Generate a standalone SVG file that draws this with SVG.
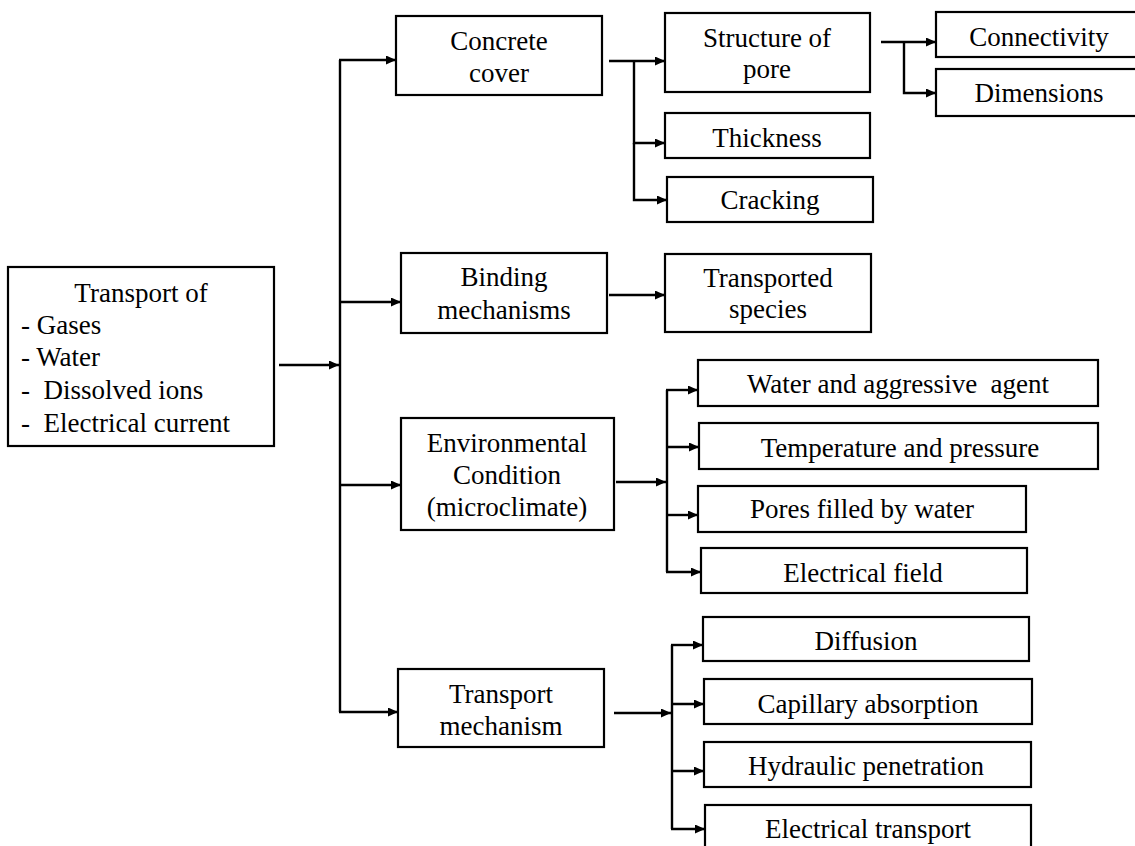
<svg xmlns="http://www.w3.org/2000/svg" width="1135" height="846" viewBox="0 0 1135 846">
  <style>
    .box { fill: #ffffff; stroke: #000000; stroke-width: 2.2; }
    .lbl { font-family: "Liberation Serif", "Times New Roman", serif; font-size: 27px; fill: #000000; text-anchor: middle; white-space: pre; }
    .lft { text-anchor: start; }
    .wire { fill: none; stroke: #000000; stroke-width: 2.4; }
    .arr { marker-end: url(#head); }
  </style>
  <defs>
    <marker id="head" markerUnits="userSpaceOnUse" markerWidth="10" markerHeight="9" refX="10" refY="4.5" orient="auto">
      <path d="M0,0 L10,4.5 L0,9 z" fill="#000000"/>
    </marker>
  </defs>

  <rect width="1135" height="846" fill="#ffffff"/>

  <!-- connectors -->
  <g id="connectors">
    <!-- root to main trunk -->
    <line class="wire arr" x1="279" y1="365" x2="339" y2="365"/>
    <line class="wire" x1="340" y1="60" x2="340" y2="712"/>
    <line class="wire arr" x1="339" y1="60" x2="396" y2="60"/>
    <line class="wire arr" x1="339" y1="302" x2="401" y2="302"/>
    <line class="wire arr" x1="339" y1="485" x2="401" y2="485"/>
    <line class="wire arr" x1="339" y1="712" x2="398" y2="712"/>

    <!-- concrete cover branches -->
    <line class="wire arr" x1="609" y1="61" x2="665" y2="61"/>
    <polyline class="wire arr" points="634,61 634,143 665,143"/>
    <polyline class="wire arr" points="634,143 634,200 667,200"/>

    <!-- structure of pore branches -->
    <line class="wire arr" x1="881" y1="42" x2="936" y2="42"/>
    <polyline class="wire arr" points="904,42 904,93 936,93"/>

    <!-- binding mechanisms -->
    <line class="wire arr" x1="609" y1="295" x2="665" y2="295"/>

    <!-- environmental condition branches -->
    <line class="wire arr" x1="616" y1="482" x2="666" y2="482"/>
    <line class="wire" x1="667" y1="390" x2="667" y2="572"/>
    <line class="wire arr" x1="666" y1="390" x2="698" y2="390"/>
    <line class="wire arr" x1="666" y1="447" x2="699" y2="447"/>
    <line class="wire arr" x1="666" y1="515" x2="698" y2="515"/>
    <line class="wire arr" x1="666" y1="572" x2="701" y2="572"/>

    <!-- transport mechanism branches -->
    <line class="wire arr" x1="614" y1="713" x2="671" y2="713"/>
    <line class="wire" x1="672" y1="645" x2="672" y2="829"/>
    <line class="wire arr" x1="671" y1="645" x2="703" y2="645"/>
    <line class="wire arr" x1="671" y1="704" x2="704" y2="704"/>
    <line class="wire arr" x1="671" y1="771" x2="704" y2="771"/>
    <line class="wire arr" x1="671" y1="829" x2="705" y2="829"/>
  </g>

  <!-- root -->
  <g id="transport-of">
    <rect class="box" x="8" y="267" width="266" height="179"/>
    <text class="lbl" x="141" y="302">Transport of</text>
    <text class="lbl lft" x="21" y="334">- Gases</text>
    <text class="lbl lft" x="21" y="366">- Water</text>
    <text class="lbl lft" x="21" y="399">-  Dissolved ions</text>
    <text class="lbl lft" x="21" y="432">-  Electrical current</text>
  </g>

  <!-- first level -->
  <g id="concrete-cover">
    <rect class="box" x="396" y="16" width="206" height="79"/>
    <text class="lbl" x="499" y="50">Concrete</text>
    <text class="lbl" x="499" y="82">cover</text>
  </g>
  <g id="binding-mechanisms">
    <rect class="box" x="401" y="253" width="206" height="80"/>
    <text class="lbl" x="504" y="286">Binding</text>
    <text class="lbl" x="504" y="319">mechanisms</text>
  </g>
  <g id="environmental-condition">
    <rect class="box" x="401" y="418" width="213" height="112"/>
    <text class="lbl" x="507" y="452">Environmental</text>
    <text class="lbl" x="507" y="484">Condition</text>
    <text class="lbl" x="507" y="516">(microclimate)</text>
  </g>
  <g id="transport-mechanism">
    <rect class="box" x="398" y="669" width="206" height="78"/>
    <text class="lbl" x="501" y="703">Transport</text>
    <text class="lbl" x="501" y="735">mechanism</text>
  </g>

  <!-- concrete cover children -->
  <g id="structure-of-pore">
    <rect class="box" x="665" y="13" width="205" height="79"/>
    <text class="lbl" x="767" y="47">Structure of</text>
    <text class="lbl" x="767" y="78">pore</text>
  </g>
  <g id="thickness">
    <rect class="box" x="665" y="113" width="205" height="45"/>
    <text class="lbl" x="767" y="147">Thickness</text>
  </g>
  <g id="cracking">
    <rect class="box" x="667" y="177" width="206" height="45"/>
    <text class="lbl" x="770" y="209">Cracking</text>
  </g>
  <g id="connectivity">
    <rect class="box" x="936" y="12" width="210" height="45"/>
    <text class="lbl" x="1039" y="46">Connectivity</text>
  </g>
  <g id="dimensions">
    <rect class="box" x="936" y="69" width="210" height="47"/>
    <text class="lbl" x="1039" y="102">Dimensions</text>
  </g>

  <!-- binding child -->
  <g id="transported-species">
    <rect class="box" x="665" y="254" width="206" height="78"/>
    <text class="lbl" x="768" y="287">Transported</text>
    <text class="lbl" x="768" y="318">species</text>
  </g>

  <!-- environmental children -->
  <g id="water-agent">
    <rect class="box" x="698" y="360" width="400" height="46"/>
    <text class="lbl" x="898" y="393">Water and aggressive  agent</text>
  </g>
  <g id="temperature-pressure">
    <rect class="box" x="699" y="423" width="399" height="46"/>
    <text class="lbl" x="900" y="457">Temperature and pressure</text>
  </g>
  <g id="pores-filled">
    <rect class="box" x="698" y="486" width="328" height="46"/>
    <text class="lbl" x="862" y="518">Pores filled by water</text>
  </g>
  <g id="electrical-field">
    <rect class="box" x="701" y="548" width="326" height="45"/>
    <text class="lbl" x="863" y="582">Electrical field</text>
  </g>

  <!-- transport mechanism children -->
  <g id="diffusion">
    <rect class="box" x="703" y="617" width="326" height="44"/>
    <text class="lbl" x="866" y="650">Diffusion</text>
  </g>
  <g id="capillary-absorption">
    <rect class="box" x="704" y="679" width="328" height="45"/>
    <text class="lbl" x="868" y="713">Capillary absorption</text>
  </g>
  <g id="hydraulic-penetration">
    <rect class="box" x="704" y="742" width="327" height="45"/>
    <text class="lbl" x="866" y="775">Hydraulic penetration</text>
  </g>
  <g id="electrical-transport">
    <rect class="box" x="705" y="805" width="326" height="50"/>
    <text class="lbl" x="868" y="838">Electrical transport</text>
  </g>
</svg>
